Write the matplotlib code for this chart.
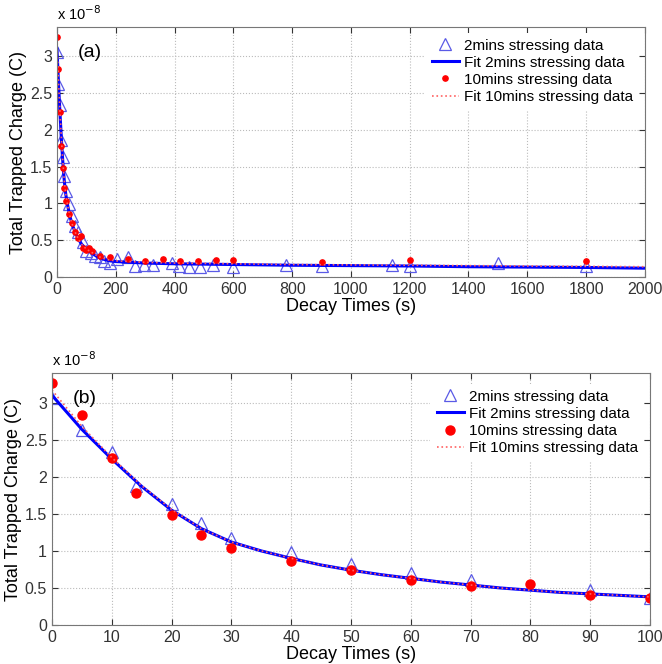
import matplotlib
matplotlib.use("Agg")
import matplotlib.pyplot as plt

plt.rcParams['font.family'] = ['Liberation Sans', 'DejaVu Sans']

# values in units of 1e-8 C
t2 = [0, 5, 10, 14, 20, 25, 30, 40, 50, 60, 70, 90, 100,
      115, 130, 145, 160, 180, 205, 240, 265, 295, 325, 390, 415, 450, 485,
      530, 600, 780, 900, 1140, 1200, 1500, 1800]
q2 = [3.06, 2.63, 2.34, 1.87, 1.63, 1.37, 1.17, 0.99, 0.83, 0.70, 0.61, 0.47, 0.36,
      0.33, 0.29, 0.27, 0.22, 0.19, 0.25, 0.27, 0.15, 0.16, 0.16, 0.19, 0.15, 0.13, 0.13,
      0.16, 0.14, 0.17, 0.15, 0.17, 0.15, 0.19, 0.15]

t10 = [0, 5, 10, 14, 20, 25, 30, 40, 50, 60, 70, 80, 90, 100,
       110, 120, 145, 180, 240, 300, 360, 420, 480, 540, 600, 900, 1200, 1800]
q10 = [3.27, 2.83, 2.25, 1.78, 1.48, 1.21, 1.04, 0.86, 0.74, 0.61, 0.53, 0.56, 0.40, 0.37,
       0.40, 0.36, 0.29, 0.27, 0.25, 0.22, 0.24, 0.22, 0.22, 0.23, 0.23, 0.21, 0.23, 0.22]

fit_t = [0, 5, 10, 15, 20, 25, 30, 35, 40, 45, 50, 55, 60, 65, 70, 75, 80, 85, 90, 95, 100,
         120, 140, 160, 180, 200, 250, 300, 400, 500, 600, 800, 1000, 1200, 1400, 1600, 1800, 2000]
fit2 = [3.10, 2.64, 2.24, 1.87, 1.55, 1.30, 1.12, 1.00, 0.90, 0.81, 0.74, 0.68, 0.63, 0.58, 0.54,
        0.50, 0.47, 0.44, 0.42, 0.40, 0.38,
        0.32, 0.27, 0.24, 0.22, 0.21, 0.20, 0.19, 0.18, 0.175, 0.17, 0.16, 0.155, 0.15, 0.14, 0.135, 0.13, 0.12]
fit10 = [3.17, 2.68, 2.26, 1.88, 1.56, 1.30, 1.12, 1.00, 0.90, 0.81, 0.74, 0.68, 0.63, 0.58, 0.54,
         0.50, 0.47, 0.44, 0.42, 0.40, 0.38,
         0.33, 0.28, 0.25, 0.23, 0.22, 0.21, 0.20, 0.19, 0.185, 0.18, 0.17, 0.165, 0.16, 0.155, 0.15, 0.145, 0.14]

tri_color = '#5a5ae6'

fig = plt.figure(figsize=(6.62, 6.64), dpi=100)
ax1 = fig.add_axes([0.0861, 0.5828, 0.888, 0.3765])
ax2 = fig.add_axes([0.0785, 0.0587, 0.9033, 0.3795])


def draw(ax, xmax, xstep, dot_size, tag, leg_anchor):
    ax.plot(t2, q2, linestyle='none', marker='^', markersize=8.5, markerfacecolor='none',
            markeredgecolor=tri_color, markeredgewidth=0.9, label='2mins stressing data')
    ax.plot(fit_t, fit2, color='#0000ff', linewidth=2.2, label='Fit 2mins stressing data')
    ax.plot(t10, q10, linestyle='none', marker='o', markersize=dot_size, color='red',
            markeredgecolor='red', label='10mins stressing data')
    ax.plot(fit_t, fit10, color='#ff6060', linestyle=':', linewidth=1.2,
            label='Fit 10mins stressing data')
    ax.set_xlim(0, xmax)
    ax.set_ylim(0, 3.4)
    ax.set_xticks(range(0, xmax + 1, xstep))
    ax.set_yticks([0, 0.5, 1, 1.5, 2, 2.5, 3])
    ax.set_yticklabels(['0', '0.5', '1', '1.5', '2', '2.5', '3'])
    ax.grid(True, linestyle=':', color='#bbbbbb', linewidth=0.8)
    ax.tick_params(direction='in', top=True, right=True, labelsize=11.5, colors='#333333',
                   length=4)
    for s in ax.spines.values():
        s.set_color('#777777')
    ax.set_xlabel('Decay Times (s)', fontsize=13, labelpad=1)
    ax.set_ylabel('Total Trapped Charge (C)', fontsize=13, labelpad=2)
    ax.text(0.0, 1.015, r'x 10$^{-8}$', transform=ax.transAxes, fontsize=10.5,
            ha='left', va='bottom')
    ax.text(0.035, 0.9, tag, transform=ax.transAxes, fontsize=14, ha='left', va='center')
    ax.legend(loc='upper right', bbox_to_anchor=leg_anchor, fontsize=11,
              frameon=True, facecolor='white', edgecolor='none', framealpha=1,
              handlelength=1.8, handletextpad=0.3, labelspacing=0.2,
              borderaxespad=0.2)


draw(ax1, 2000, 200, 3.8, '(a)', (0.995, 0.99))
draw(ax2, 100, 10, 6.5, '(b)', (0.995, 0.97))

fig.savefig('out.png', dpi=100)
